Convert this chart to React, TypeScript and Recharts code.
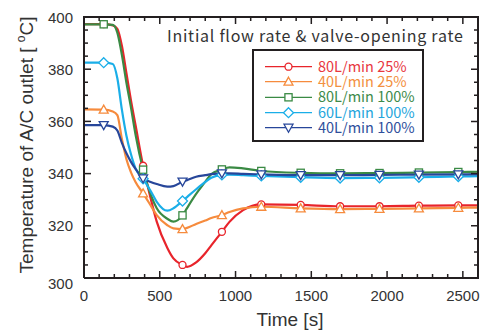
import React from 'react';
import { LineChart, Line, XAxis, YAxis, Legend, CartesianGrid } from 'recharts';

const times = [0, 130, 190, 220, 250, 280, 310, 340, 390, 440, 480, 550, 590, 650, 680, 740, 800, 840, 910, 960, 1050, 1170, 1430, 1690, 1950, 2210, 2470, 2600];
const markerTimes = [130, 390, 650, 910, 1170, 1430, 1690, 1950, 2210, 2470];

const red80_25 = [397.3, 397.3, 396.8, 395.5, 389, 378.5, 368, 358.6, 343, 330.5, 321.6, 311.5, 307.5, 305, 304.3, 306, 309.5, 312.5, 317.7, 321.5, 326, 328.2, 328, 327.5, 327.5, 327.7, 327.8, 327.8];
const orange40_25 = [364.6, 364.5, 363.8, 362.4, 353.3, 345.5, 340.5, 336.8, 332.4, 327.8, 324.1, 320.2, 319, 318.7, 319.2, 320.7, 322, 323, 324.1, 325.3, 326.7, 327.3, 326.7, 326.4, 326.5, 326.7, 326.9, 327];
const green80_100 = [397.2, 397.2, 397, 394, 385.5, 374.8, 365.3, 355, 341.5, 332, 326.7, 322.7, 321.6, 324, 326.8, 332.2, 336.8, 339.8, 341.6, 342.4, 342, 341, 340.3, 340.1, 340.2, 340.4, 340.6, 340.7];
const cyan60_100 = [382.5, 382.5, 382, 376.5, 364.5, 354.5, 347.4, 342, 338, 333.3, 329.2, 325.8, 326.7, 329.5, 331, 334, 336.8, 338.4, 339.5, 339.6, 339.4, 339.1, 338.6, 338.3, 338.4, 338.6, 338.9, 339];
const navy40_100 = [358.6, 358.6, 358, 356.5, 351.8, 347.8, 344.5, 341.8, 338.2, 336.8, 336, 335, 335.2, 336.9, 337.5, 338.8, 339.4, 339.8, 340.1, 340.1, 339.9, 339.7, 339.4, 339.4, 339.5, 339.6, 339.7, 339.8];

const seriesNames = ['80L/min 25%', '40L/min 25%', '80L/min 100%', '60L/min 100%', '40L/min 100%'];
const seriesValues = [red80_25, orange40_25, green80_100, cyan60_100, navy40_100];
const seriesColors = ['#e8242b', '#f68b3d', '#3a8a44', '#1aaee8', '#27469a'];
const seriesText = ['#e8383f', '#f39040', '#3d8a4a', '#23a5dc', '#2f4f9c'];
const seriesShapes = ['circle', 'triUp', 'square', 'diamond', 'triDown'];

const xDomain = [0, 2600];
const yDomain = [300, 400];
const xTicks = [0, 100, 200, 300, 400, 500, 600, 700, 800, 900, 1000, 1100, 1200, 1300, 1400, 1500, 1600, 1700, 1800, 1900, 2000, 2100, 2200, 2300, 2400, 2500, 2600];
const xMajor = [0, 500, 1000, 1500, 2000, 2500];
const yTicks = [300, 305, 310, 315, 320, 325, 330, 335, 340, 345, 350, 355, 360, 365, 370, 375, 380, 385, 390, 395, 400];
const yMajor = [300, 320, 340, 360, 380, 400];

const titleText = 'Initial flow rate & valve-opening rate';

const data = times.map((t, i) => {
  const row: any = { t };
  seriesValues.forEach((s, k) => { row['s' + k] = s[i]; });
  return row;
});

const W = 482;
const H = 326;
const MARGIN = { top: 9, right: 12, bottom: 0, left: 0 };
const Y_AXIS_W = 76;
const X_AXIS_H = 56;
const PL = MARGIN.left + Y_AXIS_W;
const PR = W - MARGIN.right;
const PT = MARGIN.top;
const PB = H - MARGIN.bottom - X_AXIS_H;
const sx = (v: number) => PL + ((v - xDomain[0]) / (xDomain[1] - xDomain[0])) * (PR - PL);
const sy = (v: number) => PB - ((v - yDomain[0]) / (yDomain[1] - yDomain[0])) * (PB - PT);

const INK = '#231f20';
const LABEL = '#333';
const NUM_FONT = 'Arial, "Liberation Sans", sans-serif';
const JP_FONT = '"Noto Sans CJK JP", "Noto Sans", sans-serif';

function marker(kind: string, cx: number, cy: number, color: string, key?: any) {
  const common = { fill: '#fff', stroke: color, strokeWidth: 1.3 } as any;
  if (kind === 'circle') return <circle key={key} cx={cx} cy={cy} r={3.5} {...common} />;
  if (kind === 'square') return <rect key={key} x={cx - 3.6} y={cy - 3.6} width={7.2} height={7.2} {...common} />;
  if (kind === 'diamond') return <polygon key={key} points={`${cx},${cy - 5} ${cx + 5},${cy} ${cx},${cy + 5} ${cx - 5},${cy}`} {...common} />;
  if (kind === 'triUp') return <polygon key={key} points={`${cx},${cy - 4.5} ${cx + 4.5},${cy + 3.5} ${cx - 4.5},${cy + 3.5}`} {...common} />;
  return <polygon key={key} points={`${cx - 4.5},${cy - 3.5} ${cx + 4.5},${cy - 3.5} ${cx},${cy + 4.5}`} {...common} />;
}

const BottomTick = (p: any) => {
  const v = p.payload.value;
  const major = xMajor.includes(v);
  return (
    <g>
      <line x1={p.x} x2={p.x} y1={p.y} y2={p.y - (major ? 7 : 4)} stroke={INK} strokeWidth={1.5} />
      {major && (
        <text x={p.x} y={p.y + 23} textAnchor="middle" fontSize={15} fontWeight={400} fontFamily={NUM_FONT} fill={LABEL}>{v}</text>
      )}
    </g>
  );
};

const LeftTick = (p: any) => {
  const v = p.payload.value;
  const major = yMajor.includes(v);
  const dy = v === 300 ? 11 : 5.5;
  return (
    <g>
      <line x1={p.x} x2={p.x + (major ? 7 : 4)} y1={p.y} y2={p.y} stroke={INK} strokeWidth={1.5} />
      {major && (
        <text x={p.x - 11} y={p.y + dy} textAnchor="end" fontSize={15} fontWeight={400} fontFamily={NUM_FONT} fill={LABEL}>{v}</text>
      )}
    </g>
  );
};

const FrameOverlay = () => {
  const topTicks = xTicks.map(v => `M${sx(v)},${PT} V${PT + (xMajor.includes(v) ? 7 : 4)}`).join(' ');
  const rightTicks = yTicks.map(v => `M${PR},${sy(v)} H${PR - (yMajor.includes(v) ? 7 : 4)}`).join(' ');
  return (
    <svg width={W} height={H} style={{ position: 'absolute', left: 0, top: 0, overflow: 'visible', pointerEvents: 'none', zIndex: 5 }}>
      <path d={`M${PL - 1},${PT} H${PR} V${PB + 1}`} fill="none" stroke={INK} strokeWidth={2} />
      <path d={topTicks} fill="none" stroke={INK} strokeWidth={1.5} />
      <path d={rightTicks} fill="none" stroke={INK} strokeWidth={1.5} />
    </svg>
  );
};

const LegendContent = () => {
  const boxX = 245, boxY = 42, boxW = 170, boxH = 91;
  const rowY = [58.7, 73.7, 89.3, 104.7, 119.7];
  return (
    <svg width={W} height={H} style={{ position: 'absolute', left: 0, top: 0, overflow: 'visible', pointerEvents: 'none' }}>
      <text x={159} y={34} fontSize={16} letterSpacing={0.75} fontFamily={JP_FONT} fill={LABEL}>{titleText}</text>
      <rect x={boxX} y={boxY} width={boxW} height={boxH} fill="#fff" stroke={INK} strokeWidth={2} />
      {seriesNames.map((n, i) => (
        <g key={n}>
          <line x1={257} x2={304} y1={rowY[i]} y2={rowY[i]} stroke={seriesColors[i]} strokeWidth={1.3} />
          {marker(seriesShapes[i], 280.5, rowY[i], seriesColors[i])}
          <text x={310} y={rowY[i] + 5} fontSize={14.5} fontFamily={JP_FONT} fill={seriesText[i]}>{n}</text>
        </g>
      ))}
      <text x={282} y={317.5} textAnchor="middle" fontSize={19} fontWeight={400} fontFamily={NUM_FONT} fill={LABEL}>Time [s]</text>
      <text transform="translate(25,137) rotate(-90)" textAnchor="middle" fontSize={19} fontWeight={400} fontFamily={NUM_FONT} fill={LABEL}>
        Temperature of A/C outlet [ <tspan fontSize={12} dy={-8}>o</tspan><tspan dy={8}>C]</tspan>
      </text>
    </svg>
  );
};

export default function App() {
  return (
    <div style={{ position: 'relative', width: W, height: H }}>
      <LineChart width={W} height={H} data={data} margin={MARGIN}>
        <CartesianGrid stroke={INK} strokeWidth={2} fill="none"
          horizontalCoordinatesGenerator={(p: any) => [p.offset.top]}
          verticalCoordinatesGenerator={(p: any) => [p.offset.left + p.offset.width]} />
        <XAxis xAxisId={0} dataKey="t" orientation="bottom" type="number" domain={xDomain} ticks={xTicks} interval={0} height={X_AXIS_H}
          tickLine={false} tickSize={0} tickMargin={0} tick={(p: any) => <BottomTick {...p} />}
          axisLine={{ stroke: INK, strokeWidth: 2 }} allowDataOverflow />
        <YAxis yAxisId={0} orientation="left" type="number" domain={yDomain} ticks={yTicks} interval={0} width={Y_AXIS_W}
          tickLine={false} tickSize={0} tickMargin={0} tick={(p: any) => <LeftTick {...p} />}
          axisLine={{ stroke: INK, strokeWidth: 2 }} allowDataOverflow />
        {seriesNames.map((n, k) => (
          <Line key={n} name={n} type="monotone" dataKey={'s' + k} stroke={seriesColors[k]} strokeWidth={2.2}
            isAnimationActive={false}
            dot={(p: any) => markerTimes.includes(p.payload.t)
              ? marker(seriesShapes[k], p.cx, p.cy, seriesColors[k], 'd' + k + '-' + p.index)
              : <g key={'d' + k + '-' + p.index} />} />
        ))}
        <Legend layout="vertical" align="center" verticalAlign="middle" content={() => <LegendContent />}
          wrapperStyle={{ position: 'absolute', left: 0, top: 0, width: W, height: H, pointerEvents: 'none' }} />
      </LineChart>
      <FrameOverlay />
    </div>
  );
}
